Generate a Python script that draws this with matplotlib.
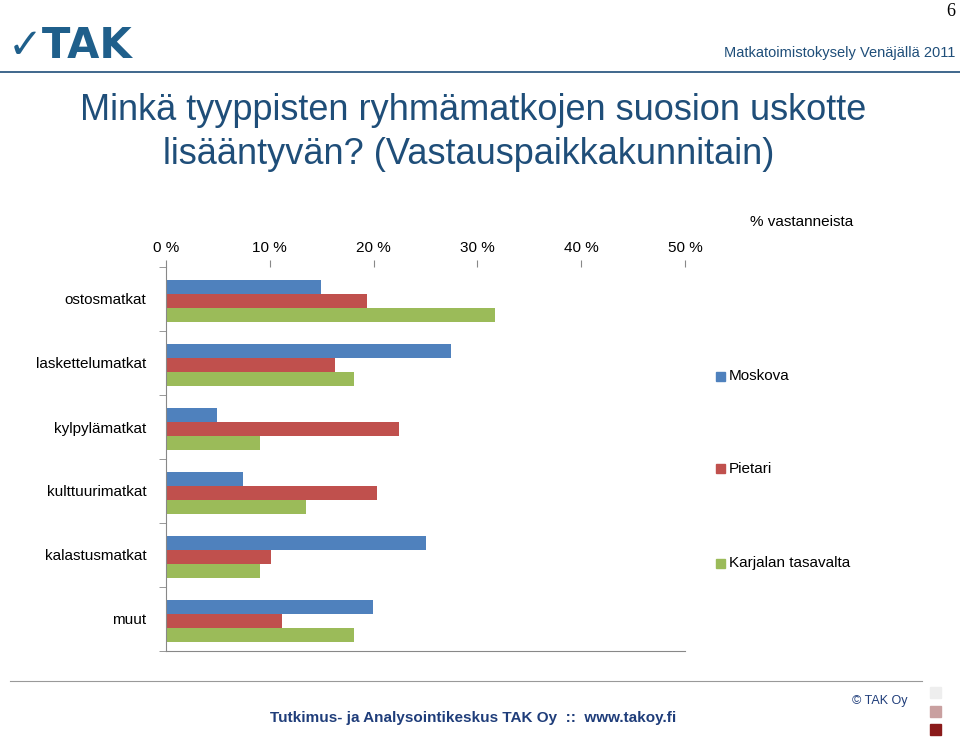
import matplotlib
matplotlib.use("Agg")
import matplotlib.pyplot as plt
import numpy as np

categories = ["ostosmatkat", "laskettelumatkat", "kylpylämatkat", "kulttuurimatkat", "kalastusmatkat", "muut"]
moskova = [14.9, 27.5, 4.9, 7.4, 25.0, 19.9]
pietari = [19.4, 16.3, 22.4, 20.3, 10.1, 11.2]
karjala = [31.7, 18.1, 9.1, 13.5, 9.1, 18.1]
series_names = ["Moskova", "Pietari", "Karjalan tasavalta"]
colors = ["#4F81BD", "#C0504D", "#9BBB59"]
xticks = [0, 10, 20, 30, 40, 50]

fig = plt.figure(figsize=(9.6, 7.4), dpi=100)
W, H = 960, 740
ax = fig.add_axes([166/W, 1-651/H, 519/W, 384/H])
y = np.arange(len(categories))
h = 0.215
for k, (vals, c) in enumerate(zip([moskova, pietari, karjala], colors)):
    ax.barh(y + (k-1)*h + 0.03, vals, height=h, color=c, label=series_names[k])
ax.set_xlim(0, 50)
ax.set_ylim(len(categories)-0.5, -0.5)
ax.xaxis.tick_top()
ax.set_xticks(xticks)
ax.set_xticklabels([f"{v} %" for v in xticks], fontsize=11, fontname="Liberation Sans")
ax.set_yticks(y)
ax.set_yticklabels(categories, fontsize=11, fontname="Liberation Sans")
ax.set_yticks(np.arange(len(categories)+1)-0.5, minor=True)
ax.tick_params(axis="y", which="major", length=0, pad=14)
ax.tick_params(axis="y", which="minor", length=5, color="#888888")
ax.tick_params(axis="x", length=5, color="#888888", pad=4)
for s in ["top", "right"]:
    ax.spines[s].set_visible(False)
for s in ["left", "bottom"]:
    ax.spines[s].set_color("#888888")

for i, (n, c) in enumerate(zip(series_names, colors)):
    yy = 1 - [376, 469, 563][i]/H
    fig.patches.append(plt.Rectangle((716/W, yy-4.5/H), 9/W, 9/H, color=c, transform=fig.transFigure))
    fig.text(729/W, yy, n, fontsize=11, va="center", fontname="Liberation Sans")

fig.text(750/W, 1-222/H, "% vastanneista", fontsize=11, va="center", fontname="Liberation Sans")
title_c = "#1F4E79"
fig.text(80/W, 1-110/H, "Minkä tyyppisten ryhmämatkojen suosion uskotte", fontsize=26, color=title_c, va="center", fontname="Liberation Sans")
fig.text(163/W, 1-155/H, "lisääntyvän? (Vastauspaikkakunnitain)", fontsize=26, color=title_c, va="center", fontname="Liberation Sans")
fig.text(955/W, 1-12/H, "6", fontsize=13, ha="right", va="center", fontname="Liberation Serif")
fig.text(955/W, 1-53/H, "Matkatoimistokysely Venäjällä 2011", fontsize=10.5, color=title_c, ha="right", va="center", fontname="Liberation Sans")
fig.add_artist(plt.Line2D([0, 1], [1-72/H]*2, color="#1F4E79", lw=1.2, transform=fig.transFigure))
fig.add_artist(plt.Line2D([0.01, 0.96], [1-681/H]*2, color="#999999", lw=0.8, transform=fig.transFigure))
fig.text(8/W, 1-46/H, "✓TAK", fontsize=30, fontweight="bold", color="#1F5F8B", va="center", fontname="DejaVu Sans")
fig.text(270/W, 1-718/H, "Tutkimus- ja Analysointikeskus TAK Oy  ::  www.takoy.fi", fontsize=11, fontweight="bold", color="#1F3D7A", va="center", fontname="Liberation Sans")
fig.text(852/W, 1-701/H, "© TAK Oy", fontsize=9, color="#1F3D7A", va="center", fontname="Liberation Sans")
for yy, c in [(692, "#EEEEEE"), (711, "#C9A0A0"), (729, "#8B1A1A")]:
    fig.patches.append(plt.Rectangle((930/W, 1-(yy+6)/H), 11/W, 11/H, color=c, transform=fig.transFigure))
fig.savefig("out.png", dpi=100)
